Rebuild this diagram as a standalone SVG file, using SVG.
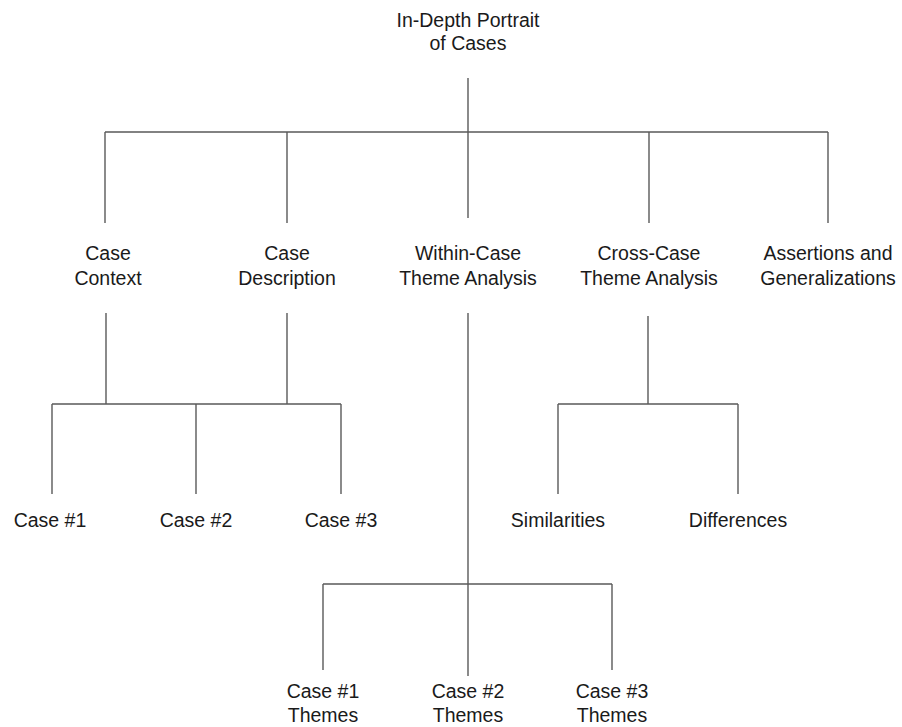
<svg xmlns="http://www.w3.org/2000/svg" width="902" height="727" viewBox="0 0 902 727">
  <style>
    .lbl { font-family: "Liberation Sans", Arial, sans-serif; font-size: 19.5px; fill: #1a1a1a; text-anchor: middle; }
    .wire { fill: none; stroke: #5a5a5a; stroke-width: 1.4; }
  </style>
  <rect width="902" height="727" fill="#ffffff"/>

  <g id="connectors">
    <!-- root to first level -->
    <path class="wire" d="M468 78 V132 M105 132 H828 M105 132 V223 M287 132 V223 M468 132 V218 M649 132 V223 M828 132 V223"/>
    <!-- Case Context / Case Description to cases -->
    <path class="wire" d="M106 313 V404 M287 313 V404 M52 404 H341 M52 404 V494 M196 404 V494 M341 404 V494"/>
    <!-- Cross-case analysis to similarities / differences -->
    <path class="wire" d="M648 316 V404 M558 404 H738 M558 404 V494 M738 404 V494"/>
    <!-- Within-case analysis to case themes -->
    <path class="wire" d="M468 313 V676 M323 584 H612 M323 584 V670 M612 584 V670"/>
  </g>

  <g id="root"><text class="lbl" x="468" y="27">In-Depth Portrait</text><text class="lbl" x="468" y="50">of Cases</text></g>

  <g id="case-context"><text class="lbl" x="108" y="260">Case</text><text class="lbl" x="108" y="285">Context</text></g>
  <g id="case-description"><text class="lbl" x="287" y="260">Case</text><text class="lbl" x="287" y="285">Description</text></g>
  <g id="within-case"><text class="lbl" x="468" y="260">Within-Case</text><text class="lbl" x="468" y="285">Theme Analysis</text></g>
  <g id="cross-case"><text class="lbl" x="649" y="260">Cross-Case</text><text class="lbl" x="649" y="285">Theme Analysis</text></g>
  <g id="assertions"><text class="lbl" x="828" y="260">Assertions and</text><text class="lbl" x="828" y="285">Generalizations</text></g>

  <g id="case-1"><text class="lbl" x="50" y="527">Case #1</text></g>
  <g id="case-2"><text class="lbl" x="196" y="527">Case #2</text></g>
  <g id="case-3"><text class="lbl" x="341" y="527">Case #3</text></g>

  <g id="similarities"><text class="lbl" x="558" y="527">Similarities</text></g>
  <g id="differences"><text class="lbl" x="738" y="527">Differences</text></g>

  <g id="case-1-themes"><text class="lbl" x="323" y="698">Case #1</text><text class="lbl" x="323" y="722">Themes</text></g>
  <g id="case-2-themes"><text class="lbl" x="468" y="698">Case #2</text><text class="lbl" x="468" y="722">Themes</text></g>
  <g id="case-3-themes"><text class="lbl" x="612" y="698">Case #3</text><text class="lbl" x="612" y="722">Themes</text></g>
</svg>
